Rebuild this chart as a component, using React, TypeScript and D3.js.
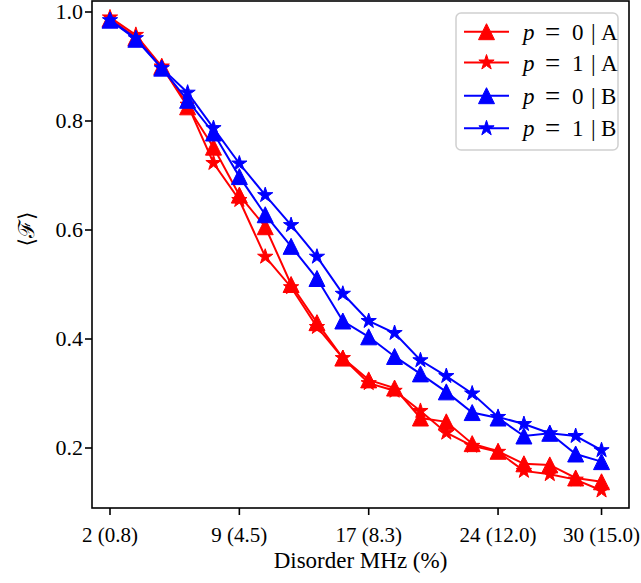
import React from "react";
import * as d3 from "d3";

const xTickIdx = [0, 5, 10, 15, 19];
const xTickLabels = ["2 (0.8)", "9 (4.5)", "17 (8.3)", "24 (12.0)", "30 (15.0)"];
const yTicks = [0.2, 0.4, 0.6, 0.8, 1.0];

const p0A = [0.987, 0.953, 0.900, 0.826, 0.752, 0.664, 0.606, 0.500, 0.430, 0.365, 0.325, 0.310, 0.255, 0.248, 0.208, 0.194, 0.171, 0.169, 0.145, 0.138];
const p1A = [0.990, 0.958, 0.900, 0.830, 0.723, 0.655, 0.551, 0.495, 0.422, 0.365, 0.319, 0.305, 0.268, 0.228, 0.204, 0.193, 0.158, 0.152, 0.142, 0.122];
const p0B = [0.985, 0.950, 0.897, 0.838, 0.778, 0.698, 0.628, 0.570, 0.511, 0.433, 0.404, 0.368, 0.336, 0.303, 0.265, 0.255, 0.222, 0.227, 0.189, 0.175];
const p1B = [0.985, 0.952, 0.897, 0.852, 0.787, 0.722, 0.664, 0.609, 0.551, 0.483, 0.433, 0.411, 0.361, 0.332, 0.300, 0.257, 0.244, 0.227, 0.222, 0.196];

const seriesNames = ["0|A", "1|A", "0|B", "1|B"];
const seriesP = ["0", "1", "0", "1"];
const seriesG = ["A", "A", "B", "B"];
const seriesColors = ["#ff0000", "#ff0000", "#0000ff", "#0000ff"];
const seriesMarkers = ["tri", "star", "tri", "star"];
const seriesData = [p0A, p1A, p0B, p1B];

const W = 641, H = 583;
const L = 92, R = 629, T = 1, B = 508;
const FONT = '"Liberation Serif", "DejaVu Serif", serif';
const txt = { fontFamily: FONT };

function trianglePath(s: number) {
  const h = s / 2;
  return `M0,${-h}L${h},${h}L${-h},${h}Z`;
}
function starPath(r: number) {
  const inner = r * 0.381966;
  const pts: string[] = [];
  for (let i = 0; i < 10; i++) {
    const rr = i % 2 === 0 ? r : inner;
    const a = -Math.PI / 2 + (i * Math.PI) / 5;
    pts.push(`${(rr * Math.cos(a)).toFixed(2)},${(rr * Math.sin(a)).toFixed(2)}`);
  }
  return "M" + pts.join("L") + "Z";
}

export default function App() {
  const x = d3.scaleLinear().domain([(L - 110) / 25.87, (R - 110) / 25.87]).range([L, R]);
  const y = d3.scaleLinear().domain([0.2 - (B - 448) / 545, 1.0 + (12 - T) / 545]).range([B, T]);
  const line = d3.line<number>().x((_, i) => x(i)).y((d) => y(d));

  const marker = (kind: string, color: string, key: any, cx: number, cy: number, scale = 1) =>
    kind === "tri" ? (
      <path key={key} d={trianglePath(16 * scale)} transform={`translate(${cx},${cy})`} fill={color} stroke={color} strokeWidth={1} />
    ) : (
      <path key={key} d={starPath(8 * scale)} transform={`translate(${cx},${cy})`} fill={color} stroke={color} strokeWidth={1} />
    );

  const legX = 456, legY = 13, legW = 162, legH = 137;
  const rowY = [31.7, 62.5, 95.7, 128.3];

  return (
    <svg width={W} height={H} style={{ position: "absolute", left: 0, top: 0, background: "#fff" }}>
      <rect x={0} y={0} width={W} height={H} fill="#fff" />
      {seriesData.map((d, si) => (
        <g key={si}>
          <path d={line(d) || ""} fill="none" stroke={seriesColors[si]} strokeWidth={2} />
          {d.map((v, i) => marker(seriesMarkers[si], seriesColors[si], i, x(i), y(v)))}
        </g>
      ))}
      <rect x={L} y={T} width={R - L} height={B - T} fill="none" stroke="#000" strokeWidth={1.6} />
      {yTicks.map((t) => (
        <g key={t}>
          <line x1={L - 7} x2={L} y1={y(t)} y2={y(t)} stroke="#000" strokeWidth={1.6} />
          <text x={L - 9} y={y(t)} dy="0.34em" textAnchor="end" fontSize={22} style={txt}>
            {d3.format(".1f")(t)}
          </text>
        </g>
      ))}
      {xTickIdx.map((t, i) => (
        <g key={t}>
          <line x1={x(t)} x2={x(t)} y1={B} y2={B + 7} stroke="#000" strokeWidth={1.6} />
          <text x={x(t)} y={B + 34} textAnchor="middle" fontSize={21} style={txt}>
            {xTickLabels[i]}
          </text>
        </g>
      ))}
      <text x={(L + R) / 2} y={568} textAnchor="middle" fontSize={23} style={txt}>Disorder MHz (%)</text>
      <text transform={`translate(34,229) rotate(-90)`} textAnchor="middle" fontSize={22} style={txt}>⟨ℱ⟩</text>
      <rect x={legX} y={legY} width={legW} height={legH} rx={5} fill="#fff" fillOpacity={0.8} stroke="#d0d0d0" strokeWidth={1.5} />
      {seriesNames.map((n, i) => (
        <g key={n}>
          <line x1={464} x2={509} y1={rowY[i]} y2={rowY[i]} stroke={seriesColors[i]} strokeWidth={2} />
          {marker(seriesMarkers[i], seriesColors[i], "m", 486.5, rowY[i], 1)}
          <text y={rowY[i]} dy="0.35em" fontSize={23} style={txt}>
            <tspan x={523} fontStyle="italic">p</tspan>
            <tspan x={545} fontSize={27} dy={1}>=</tspan>
            <tspan x={572} dy={-1}>{seriesP[i]}</tspan>
            <tspan x={591}>|</tspan>
            <tspan x={601}>{seriesG[i]}</tspan>
          </text>
        </g>
      ))}
    </svg>
  );
}
